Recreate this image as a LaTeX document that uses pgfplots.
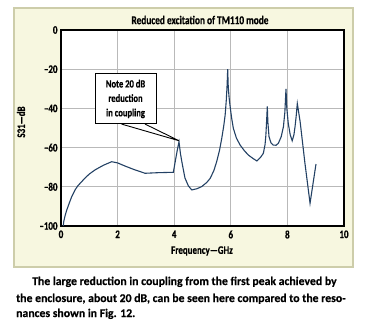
\documentclass[border=0pt]{standalone}
\usepackage{pgfplots}
\pgfplotsset{compat=1.18}
\usepackage{fontspec}
\setmainfont{Carlito}[BoldFeatures={FakeBold=0.4}]
\newfontfamily\cond{Carlito}[FakeStretch=0.78, BoldFeatures={FakeBold=0.6}]
\definecolor{panelcream}{RGB}{247,247,224}
\definecolor{panelborder}{RGB}{205,205,170}
\definecolor{curve}{RGB}{35,65,100}
\begin{document}
\begin{tikzpicture}[x=1bp,y=1bp]
\path[fill=white] (0,0) rectangle (366,335);
\draw[fill=panelcream, draw=panelborder, line width=1.6bp] (14,68) rectangle (353,327);
\begin{axis}[at={(61bp,109bp)}, anchor=south west, scale only axis,
  width=283bp, height=196bp,
  xmin=0, xmax=10, ymin=-100, ymax=0,
  xtick={0,2,4,6,8,10}, xticklabels={0,2,4,6,8,10},
  ytick={-100,-80,-60,-40,-20,0}, yticklabels={–100,–80,–60,–40,–20,0},
  axis background/.style={fill=white},
  grid=major, major grid style={draw=gray!55, line width=0.8pt},
  axis line style={line width=1.1pt},
  tick style={draw=none},
  tick label style={font=\cond\bfseries\fontsize{11.5}{12}\selectfont},
  xticklabel style={yshift=-1bp},
]
\addplot[curve, line width=1.1pt] coordinates {
(0.08,-100) (0.1,-97.5) (0.14,-95) (0.2,-92) (0.3,-88) (0.38,-85) (0.5,-81.5) (0.6,-79.4) (0.73,-77.4)
(0.85,-75.5) (1.0,-73.5) (1.2,-71.4) (1.5,-69) (1.79,-67.2) (2.0,-67.8) (2.26,-69.4) (2.6,-71.3)
(2.97,-73.1) (3.43,-72.8) (3.97,-72.6) (4.05,-66) (4.1,-62) (4.17,-57) (4.22,-63)
(4.28,-68) (4.38,-75.5) (4.5,-79.5) (4.62,-81.6) (4.8,-81) (4.97,-79.9) (5.15,-77.8) (5.27,-75.7)
(5.4,-71.8) (5.5,-67.2) (5.6,-61.5) (5.68,-55.3) (5.75,-49) (5.8,-43.4) (5.84,-36) (5.87,-28) (5.89,-20) (5.91,-29) (5.94,-34.5) (5.97,-38.3)
(6.03,-45) (6.09,-50.2) (6.2,-55.2) (6.33,-58.7) (6.48,-61.6) (6.62,-63.8) (6.78,-65.5) (6.92,-66.8) (7.05,-65) (7.15,-62.9) (7.21,-58.5) (7.24,-53.6)
(7.27,-45) (7.29,-39) (7.31,-47) (7.35,-54.4) (7.42,-57.6) (7.5,-58.7) (7.6,-58.8) (7.68,-57.8) (7.78,-54.5) (7.86,-49.3)
(7.91,-42) (7.95,-30) (7.98,-40) (8.03,-47.6) (8.1,-53.5) (8.17,-56.5) (8.23,-53.5) (8.27,-49.3) (8.31,-44)
(8.35,-37.5) (8.45,-46.8) (8.62,-68) (8.8,-88.4) (9.01,-68.4)
};
\draw[black, line width=0.9pt] (axis cs:2.14,-48) -- (axis cs:4.17,-56.5) -- (axis cs:2.97,-48);
\node[draw=black, fill=white, line width=1pt, minimum width=61bp, minimum height=50bp,
  inner sep=1bp, align=center, font=\cond\bfseries\fontsize{11}{14.5}\selectfont]
  at (axis cs:2.28,-35.2) {Note 20 dB\\reduction\\in coupling};
\end{axis}
\node[font=\cond\bfseries\fontsize{12}{12}\selectfont] at (200,315) {Reduced excitation of TM110 mode};
\node[font=\cond\bfseries\fontsize{11.5}{12}\selectfont] at (202,84) {Frequency—GHz};
\node[font=\cond\bfseries\fontsize{11.5}{12}\selectfont, rotate=90] at (21,213) {S31—dB};
\begin{scope}[every node/.style={anchor=base west, inner sep=0pt, font=\bfseries\fontsize{11.8}{12}\selectfont}]
\node at (32,50) {The large reduction in coupling from the first peak achieved by};
\node at (16,33) {the enclosure, about 20 dB, can be seen here compared to the reso-};
\node at (16,18) {nances shown in Fig. 12.};
\end{scope}
\end{tikzpicture}
\end{document}
